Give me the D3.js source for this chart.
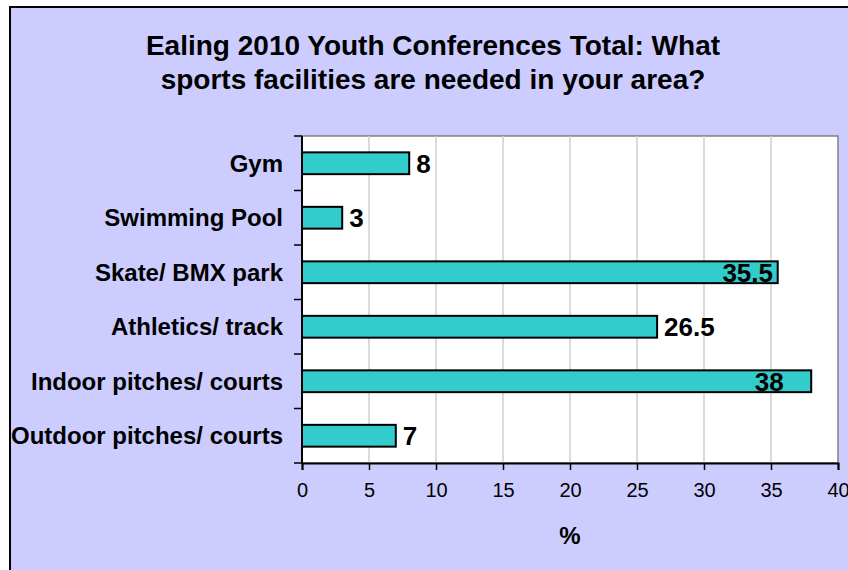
<!DOCTYPE html>
<html>
<head>
<meta charset="utf-8">
<script src="https://cdn.jsdelivr.net/npm/d3@7"></script>
<style>
  html, body { margin: 0; padding: 0; background: #ffffff; }
  svg { display: block; }
  text { font-family: "Liberation Sans", Arial, Helvetica, sans-serif; }
</style>
</head>
<body>
<svg id="chart" width="848" height="570"></svg>
<script>
// Survey answers, top to bottom as listed
const categories = [
  "Gym",
  "Swimming Pool",
  "Skate/ BMX park",
  "Athletics/ track",
  "Indoor pitches/ courts",
  "Outdoor pitches/ courts"
];
const percentages = [8, 3, 35.5, 26.5, 38, 7];
const xTicks = [0, 5, 10, 15, 20, 25, 30, 35, 40];
const titleLines = [
  "Ealing 2010 Youth Conferences Total: What",
  "sports facilities are needed in your area?"
];
const xAxisTitle = "%";

const rows = categories.map((c, i) => ({ category: c, value: percentages[i] }));

const svg = d3.select("#chart");
const W = 848, H = 570;

// chart background panel with border (runs past the right/bottom edge)
svg.append("rect")
  .attr("x", 10).attr("y", 7)
  .attr("width", W + 20).attr("height", H + 20)
  .attr("fill", "#ccccff")
  .attr("stroke", "#000").attr("stroke-width", 2);

const plot = { left: 302, right: 838, top: 136, bottom: 463 };

const x = d3.scaleLinear().domain([0, 40]).range([plot.left, plot.right]);
const y = d3.scaleBand().domain(categories).range([plot.top, plot.bottom])
  .paddingInner(0.6).paddingOuter(0.3);
const band = d3.scaleBand().domain(categories).range([plot.top, plot.bottom]);

// plot area
svg.append("rect")
  .attr("x", plot.left).attr("y", plot.top)
  .attr("width", plot.right - plot.left).attr("height", plot.bottom - plot.top)
  .attr("fill", "#ffffff")
  .attr("stroke", "#808080").attr("stroke-width", 1.5);

// vertical gridlines
svg.append("g")
  .selectAll("line")
  .data(xTicks.filter(t => t > 0 && t < 40))
  .join("line")
  .attr("x1", d => x(d)).attr("x2", d => x(d))
  .attr("y1", plot.top).attr("y2", plot.bottom)
  .attr("stroke", "#cfcfcf").attr("stroke-width", 1.5);

// bars
svg.append("g")
  .selectAll("rect")
  .data(rows)
  .join("rect")
  .attr("x", x(0))
  .attr("y", d => y(d.category))
  .attr("width", d => x(d.value) - x(0))
  .attr("height", y.bandwidth())
  .attr("fill", "#33cccc")
  .attr("stroke", "#000").attr("stroke-width", 2);

// x axis
const xAxis = d3.axisBottom(x).tickValues(xTicks).tickSize(7).tickPadding(13)
  .tickFormat(d3.format("d"));
const gx = svg.append("g").attr("transform", `translate(0,${plot.bottom})`).call(xAxis);
gx.select(".domain").attr("stroke", "#000").attr("stroke-width", 2);
gx.selectAll(".tick line").attr("stroke", "#000").attr("stroke-width", 1.5);
gx.selectAll(".tick text")
  .attr("font-size", 20).attr("fill", "#000")
  .attr("font-family", "'Liberation Sans', Arial, sans-serif");

// y axis: tick marks sit on category boundaries
const boundaries = categories.map(c => band(c)).concat([plot.bottom]);
svg.append("g")
  .selectAll("line")
  .data(boundaries)
  .join("line")
  .attr("x1", plot.left - 8).attr("x2", plot.left)
  .attr("y1", d => d).attr("y2", d => d)
  .attr("stroke", "#000").attr("stroke-width", 1.5);
svg.append("line")
  .attr("x1", plot.left).attr("x2", plot.left)
  .attr("y1", plot.top).attr("y2", plot.bottom)
  .attr("stroke", "#000").attr("stroke-width", 2);

// category labels
svg.append("g")
  .selectAll("text")
  .data(categories)
  .join("text")
  .attr("x", 283)
  .attr("y", d => band(d) + band.bandwidth() / 2)
  .attr("dy", "0.36em")
  .attr("text-anchor", "end")
  .attr("font-size", 24).attr("font-weight", "bold")
  .text(d => d);

// value labels: long bars carry their label inside the bar end
const insideLabelEnd = { "Skate/ BMX park": 35.15, "Indoor pitches/ courts": 35.95 };
svg.append("g")
  .selectAll("text")
  .data(rows)
  .join("text")
  .attr("x", d => d.category in insideLabelEnd ? x(insideLabelEnd[d.category]) : x(d.value) + 7)
  .attr("text-anchor", d => d.category in insideLabelEnd ? "end" : "start")
  .attr("y", d => y(d.category) + y.bandwidth() / 2)
  .attr("dy", "0.36em")
  .attr("font-size", 26).attr("font-weight", "bold")
  .text(d => d3.format("~g")(d.value));

// title
svg.append("text")
  .attr("x", 433).attr("y", 55)
  .attr("text-anchor", "middle")
  .attr("font-size", 28).attr("font-weight", "bold")
  .selectAll("tspan")
  .data(titleLines)
  .join("tspan")
  .attr("x", 433)
  .attr("dy", (d, i) => i === 0 ? 0 : 34)
  .text(d => d);

// axis title
svg.append("text")
  .attr("x", (plot.left + plot.right) / 2).attr("y", 544)
  .attr("text-anchor", "middle")
  .attr("font-size", 24).attr("font-weight", "bold")
  .text(xAxisTitle);
</script>
</body>
</html>
